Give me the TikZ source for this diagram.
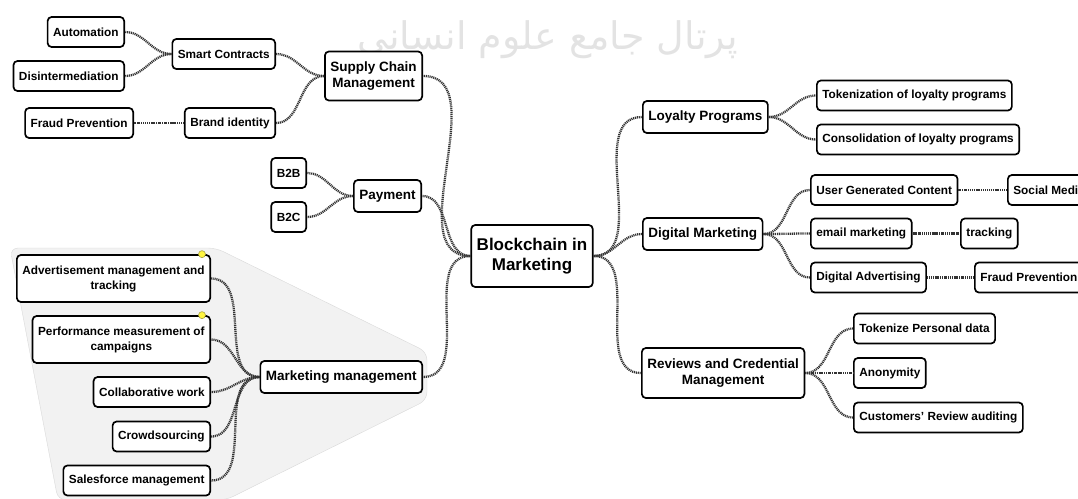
\documentclass[tikz,border=0pt]{standalone}
\usepackage{fontspec}
\setmainfont{Liberation Sans}
\newfontfamily\arabicfont[Script=Arabic]{DejaVu Sans}
\TeXXeTstate=1
\begin{document}
\begin{tikzpicture}[x=1pt, y=-1pt,
  box/.style={draw, line width=1.7pt, rounded corners=4pt, fill=white, align=center, inner xsep=5.5pt, inner ysep=0pt},
  root/.style={box, font=\fontsize{17}{20}\selectfont\bfseries, minimum height=62pt},
  branch/.style={box, font=\fontsize{13.5}{16}\selectfont\bfseries, minimum height=32pt},
  leaf/.style={box, font=\fontsize{11.8}{15}\selectfont\bfseries, minimum height=30pt},
  link/.style={line width=2.3pt, black!80, dash pattern=on 1.1pt off 0.8pt},
  flag/.style={circle, draw=black!40!yellow, fill=yellow!75, line width=0.6pt, inner sep=0pt, minimum size=7pt}]
%
\useasboundingbox (0,0) rectangle (1078,498);
%
\node[text=gray!22, font=\arabicfont\fontsize{38}{38}\selectfont] (mark) at (548,40) {\beginR پرتال جامع علوم انسانی\endR};
%
\draw[fill=gray!10, draw=gray!30, rounded corners=8pt]
(10,248) -- (216,248) -- (427,352) -- (427,400) -- (226,500) -- (58,500) -- cycle;
%
\node[root] (root) at (532,256) {Blockchain in\\Marketing};
%
\node[branch, anchor=east, minimum height=49pt] (supply) at (423,76) {Supply Chain\\Management};
\node[branch, anchor=east] (payment) at (422,196) {Payment};
\node[branch, anchor=east] (mktmgmt) at (423,377) {Marketing management};
%
\node[leaf, anchor=east] (smart) at (276,54) {Smart Contracts};
\node[leaf, anchor=east] (brand) at (276,123) {Brand identity};
\node[leaf, anchor=east] (automation) at (125,32) {Automation};
\node[leaf, anchor=east] (disinter) at (125,76) {Disintermediation};
\node[leaf, anchor=east] (fraudL) at (134,123) {Fraud Prevention};
\node[leaf, anchor=east, minimum width=35pt] (btob) at (307,173) {B2B};
\node[leaf, anchor=east, minimum width=35pt] (btoc) at (307,217) {B2C};
%
\node[leaf, anchor=east, minimum height=47pt] (advert) at (211,278.5) {Advertisement management and\\tracking};
\node[leaf, anchor=east, minimum height=47pt] (perf) at (211,339.5) {Performance measurement of\\campaigns};
\node[leaf, anchor=east] (collab) at (211,392) {Collaborative work};
\node[leaf, anchor=east] (crowd) at (211,436.5) {Crowdsourcing};
\node[leaf, anchor=east] (sales) at (211,480.5) {Salesforce management};
\node[flag] (flagA) at ([xshift=-9pt]advert.north east) {};
\node[flag] (flagB) at ([xshift=-9pt]perf.north east) {};
%
\node[branch, anchor=west] (loyalty) at (642,117) {Loyalty Programs};
\node[branch, anchor=west] (digital) at (642,234) {Digital Marketing};
\node[branch, anchor=west, minimum height=50pt] (reviews) at (641,373) {Reviews and Credential\\Management};
%
\node[leaf, anchor=west] (tokenization) at (816,95.5) {Tokenization of loyalty programs};
\node[leaf, anchor=west] (consolidation) at (816,139.5) {Consolidation of loyalty programs};
\node[leaf, anchor=west] (ugc) at (810,190) {User Generated Content};
\node[leaf, anchor=west] (social) at (1007,190) {Social Media};
\node[leaf, anchor=west] (email) at (810,233.5) {email marketing};
\node[leaf, anchor=west] (tracking) at (960,233.5) {tracking};
\node[leaf, anchor=west] (digadv) at (810,277.5) {Digital Advertising};
\node[leaf, anchor=west] (fraudR) at (974,277.5) {Fraud Prevention};
\node[leaf, anchor=west] (tokenize) at (853,328.5) {Tokenize Personal data};
\node[leaf, anchor=west] (anon) at (853,373) {Anonymity};
\node[leaf, anchor=west] (customers) at (853,417.5) {Customers' Review auditing};
%
\foreach \a/\b in {root/supply, root/payment, root/mktmgmt, supply/smart, supply/brand,
  smart/automation, smart/disinter, brand/fraudL, payment/btob, payment/btoc,
  mktmgmt/advert, mktmgmt/perf, mktmgmt/collab, mktmgmt/crowd, mktmgmt/sales}
  \draw[link] (\a.west) to[out=180, in=0] (\b.east);
%
\foreach \a/\b in {root/loyalty, root/digital, root/reviews, loyalty/tokenization, loyalty/consolidation,
  digital/ugc, digital/email, digital/digadv, ugc/social, email/tracking, digadv/fraudR,
  reviews/tokenize, reviews/anon, reviews/customers}
  \draw[link] (\a.east) to[out=0, in=180] (\b.west);
%
\end{tikzpicture}
\end{document}
